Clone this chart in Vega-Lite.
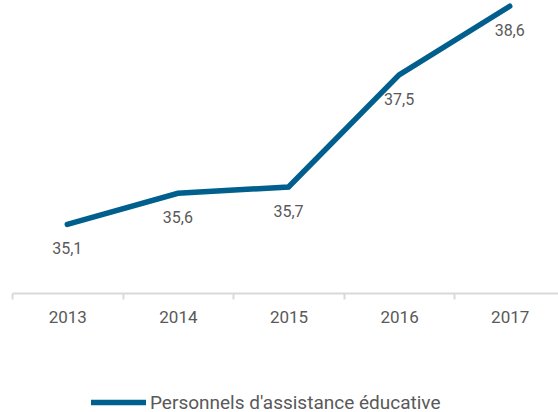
{
  "$schema": "https://vega.github.io/schema/vega-lite/v6.json",
  "autosize": "none",
  "width": 553,
  "height": 293,
  "padding": {"left": 12, "top": 0, "right": 0, "bottom": 119},
  "background": "white",
  "config": {"view": {"stroke": null}, "font": "Roboto"},
  "data": {"values": [
    {"annee": "2013", "valeur": 35.1, "serie": "Personnels d'assistance éducative"},
    {"annee": "2014", "valeur": 35.6, "serie": "Personnels d'assistance éducative"},
    {"annee": "2015", "valeur": 35.7, "serie": "Personnels d'assistance éducative"},
    {"annee": "2016", "valeur": 37.5, "serie": "Personnels d'assistance éducative"},
    {"annee": "2017", "valeur": 38.6, "serie": "Personnels d'assistance éducative"}
  ]},
  "encoding": {
    "x": {"field": "annee", "type": "ordinal", "bandPosition": 0.5,
      "scale": {"type": "band", "paddingInner": 0, "paddingOuter": 0},
      "axis": {"title": null, "labelAngle": 0, "labelFont": "Roboto", "labelFontSize": 17, "labelColor": "#595959",
        "domainColor": "#d9d9d9", "domainWidth": 2, "tickColor": "#d9d9d9", "tickWidth": 2, "tickSize": 6,
        "tickBand": "extent", "labelPadding": 10, "grid": false}},
    "y": {"field": "valeur", "type": "quantitative", "scale": {"domain": [34, 38.7], "zero": false, "nice": false}, "axis": null}
  },
  "layer": [
    {"mark": {"type": "line", "strokeWidth": 5.5, "strokeCap": "round", "strokeJoin": "miter"},
     "encoding": {"color": {"field": "serie", "type": "nominal", "scale": {"range": ["#005f8c"]},
       "legend": {"title": null, "orient": "none", "legendX": 76, "legendY": 372, "symbolType": "stroke",
         "symbolSize": 3025, "symbolStrokeWidth": 5.5, "labelFont": "Roboto", "labelFontSize": 19, "labelColor": "#595959", "labelOffset": 1, "labelLimit": 500}}}},
    {"mark": {"type": "text", "dy": 25, "font": "Roboto", "fontSize": 16, "color": "#595959"},
     "encoding": {"text": {"field": "valeur", "type": "quantitative", "format": ".1f", "formatType": "number"}}}
  ],
  "usermeta": {"embedOptions": {"formatLocale": {"decimal": ",", "thousands": " ", "grouping": [3], "currency": ["", " €"]}}}
}
